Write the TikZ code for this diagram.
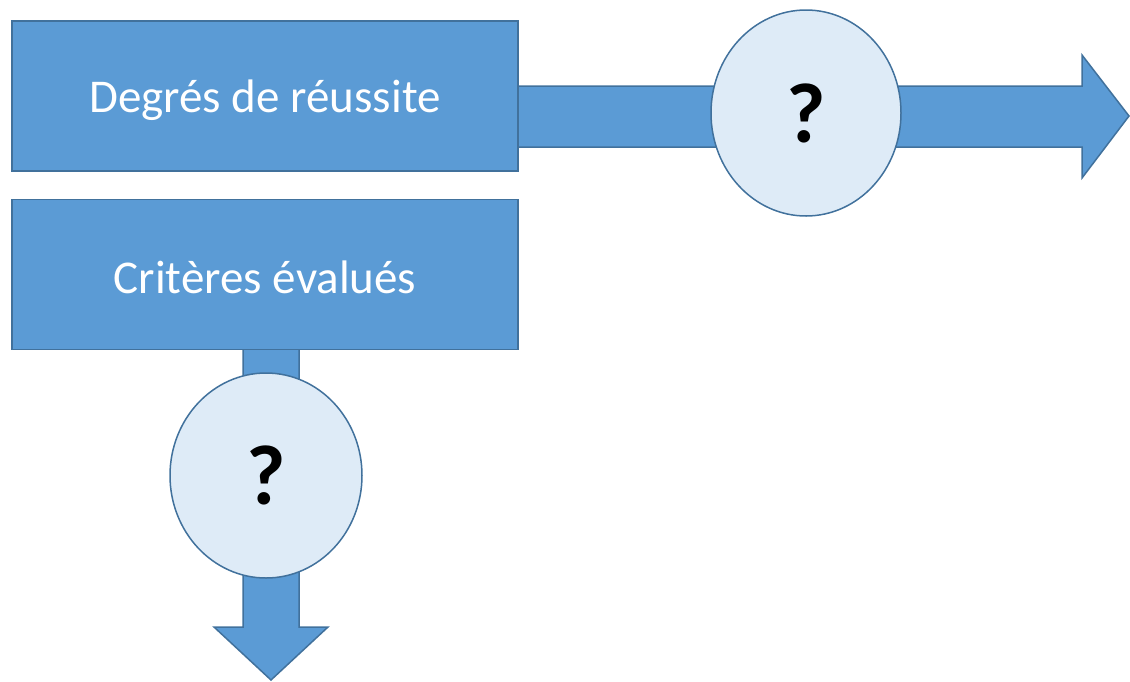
\documentclass[tikz,border=0pt]{standalone}
\usepackage{fontspec}
\setmainfont{Carlito}
\usetikzlibrary{shapes.geometric}
\definecolor{boxfill}{HTML}{5B9BD5}
\definecolor{boxline}{HTML}{41719C}
\definecolor{circfill}{HTML}{DEEBF7}
\begin{document}
\begin{tikzpicture}[x=1pt,y=-1pt,
  bluebox/.style={draw=boxline,fill=boxfill,line width=1.5pt,minimum width=506pt,minimum height=150pt,inner sep=0pt},
  boxtext/.style={inner sep=0pt,text=white,font=\fontsize{47}{54}\selectfont},
  qcircle/.style={ellipse,draw=boxline,fill=circfill,line width=1.5pt,inner sep=0pt,font=\fontsize{85}{95}\selectfont\bfseries},
  bigarrow/.style={draw=boxline,fill=boxfill,line width=1.5pt,line join=miter}]
\useasboundingbox (0,0) rectangle (1130,681);
% arrows (behind)
\coordinate (rstart) at (512,86);
\coordinate (dstart) at (243,344);
\draw[bigarrow] (rstart) -- (1082,86) -- (1082,55) -- (1129,116) -- (1082,178) -- (1082,147) -- (512,147) -- cycle;
\draw[bigarrow] (dstart) -- (299,344) -- (299,627) -- (328,627) -- (271,680) -- (214,627) -- (243,627) -- cycle;
% boxes
\node[bluebox] (deg) at (265,96) {};
\node[boxtext] (degt) at ([yshift=-4pt]deg.center) {Degrés de réussite};
\node[bluebox] (crit) at (265,274.5) {};
\node[boxtext] (critt) at ([yshift=-3pt]crit.center) {Critères évalués};
% circles
\node[qcircle,minimum width=190pt,minimum height=206pt] (q1) at (806,113) {?};
\node[qcircle,minimum width=192pt,minimum height=205pt] (q2) at (266,475.5) {?};
\end{tikzpicture}
\end{document}
